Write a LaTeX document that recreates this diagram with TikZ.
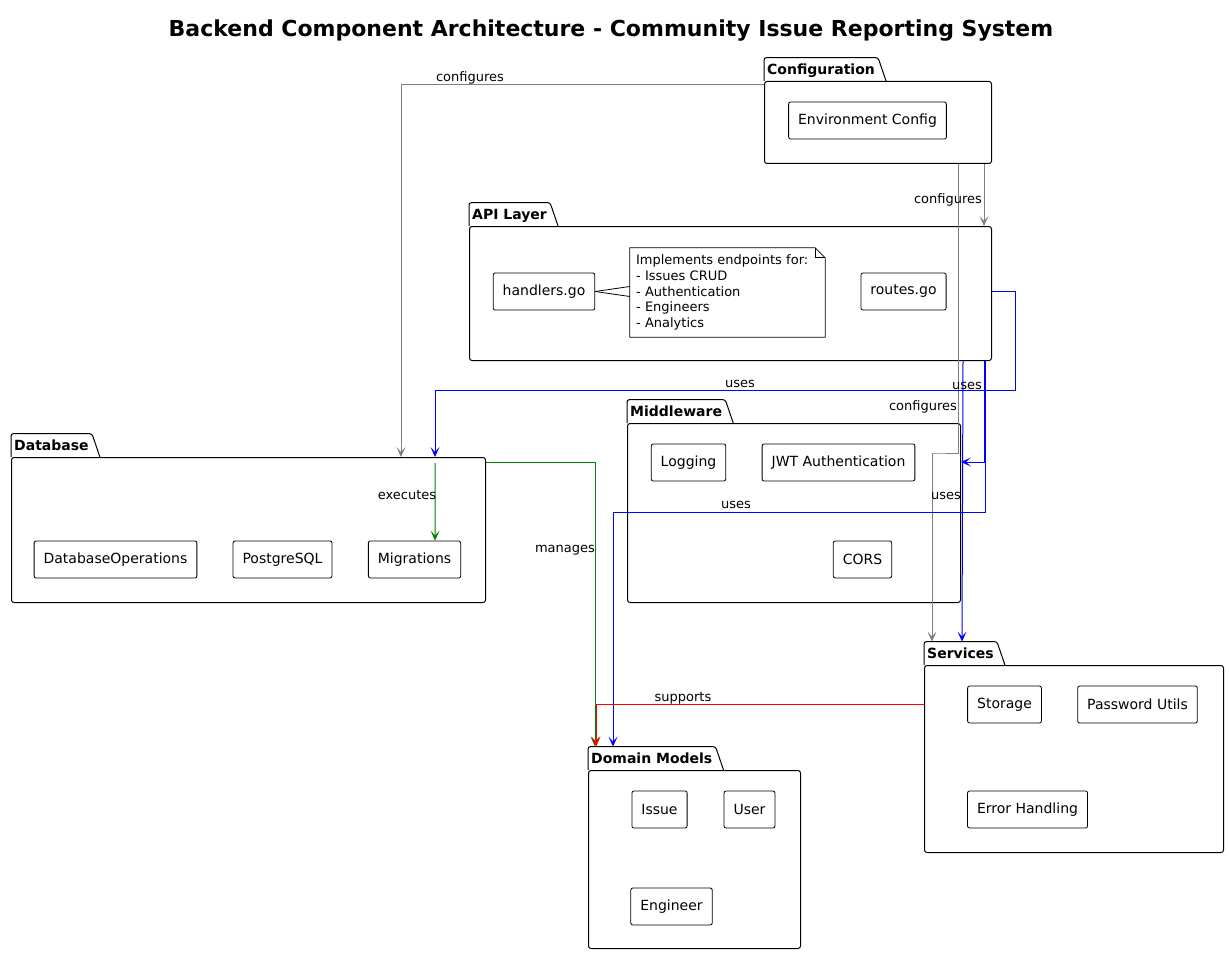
\documentclass[tikz,border=0pt]{standalone}
\usepackage{fontspec}
\setmainfont{DejaVu Sans}
\usetikzlibrary{arrows.meta,calc}

\definecolor{cfggray}{RGB}{128,128,128}
\definecolor{usesblue}{RGB}{0,0,255}
\definecolor{mnggreen}{RGB}{0,128,0}
\definecolor{supred}{RGB}{255,0,0}

% package tab above a package body node
\newcommand{\pkgtab}[2]{%
  \node[tabtext] (#1tab) at (#1.north west) {#2};
  \draw[line width=1pt] (#1tab.south west) [rounded corners=2.5pt] -- (#1tab.north west)
    -- (#1tab.north east) [sharp corners] -- ($(#1tab.south east)+(8,0)$);
}

\begin{document}
\begin{tikzpicture}[x=1pt, y=-1pt,
  >={Stealth[length=10pt,width=9pt,inset=5pt]},
  pkgbody/.style={draw, line width=1pt, rounded corners=2.5pt, anchor=north west, inner sep=0pt},
  tabtext/.style={font=\fontsize{14}{16}\bfseries, anchor=south west, inner xsep=3pt, inner ysep=0pt,
    minimum height=23pt, text height=11pt, text depth=1pt},
  comp/.style={draw, line width=0.8pt, rounded corners=2pt, font=\fontsize{14}{16}\selectfont,
    minimum height=37pt, inner xsep=9.5pt},
  lbl/.style={font=\fontsize{13}{15}\selectfont, anchor=base, inner sep=0pt},
  cfg/.style={->, draw=cfggray, line width=1pt},
  uses/.style={->, draw=usesblue, line width=1pt},
  mng/.style={->, draw=mnggreen, line width=1pt},
  sup/.style={->, draw=supred, line width=1pt}]

\fill[white] (0,0) rectangle (1229,955);
\useasboundingbox (0,0) rectangle (1229,955);

% Title
\node[font=\fontsize{22}{26}\bfseries, anchor=base] (title) at (611,37)
  {Backend Component Architecture - Community Issue Reporting System};

% Packages
\node[pkgbody, minimum width=227, minimum height=82] (config) at (764,81) {};
\pkgtab{config}{Configuration}
\node[pkgbody, minimum width=522, minimum height=134] (api) at (469,226) {};
\pkgtab{api}{API Layer}
\node[pkgbody, minimum width=474, minimum height=145] (db) at (11,457) {};
\pkgtab{db}{Database}
\node[pkgbody, minimum width=333, minimum height=179] (mw) at (627,423) {};
\pkgtab{mw}{Middleware}
\node[pkgbody, minimum width=299, minimum height=187] (svc) at (924,665) {};
\pkgtab{svc}{Services}
\node[pkgbody, minimum width=212, minimum height=178] (dom) at (588,770) {};
\pkgtab{dom}{Domain Models}

% Components
\node[comp] (env) at (867.5,120.5) {Environment Config};
\node[comp] (handlers) at (544,291.5) {handlers.go};
\node[comp] (routes) at (903.5,291.5) {routes.go};
\node[comp] (dbops) at (115.5,559.5) {DatabaseOperations};
\node[comp] (pg) at (282.5,559.5) {PostgreSQL};
\node[comp] (mig) at (414.5,559.5) {Migrations};
\node[comp] (logging) at (688.5,462.5) {Logging};
\node[comp] (jwt) at (838.5,462.5) {JWT Authentication};
\node[comp] (cors) at (862.5,559.5) {CORS};
\node[comp] (storage) at (1004.5,704.5) {Storage};
\node[comp] (pwd) at (1137.5,704.5) {Password Utils};
\node[comp] (err) at (1027.5,809.5) {Error Handling};
\node[comp] (issue) at (659.5,809.5) {Issue};
\node[comp] (user) at (749.5,809.5) {User};
\node[comp] (engineer) at (671.5,906.5) {Engineer};

% Note on handlers
\node[font=\fontsize{13}{15.8}\selectfont, align=left, text width=183, inner xsep=6pt,
  minimum height=89] (note) at (727.5,292.5)
  {Implements endpoints for:\\- Issues CRUD\\- Authentication\\- Engineers\\- Analytics};
\draw[line width=0.8pt] (note.north west) -- ($(note.north east)+(-10,0)$) -- ($(note.north east)+(0,10)$)
  -- (note.south east) -- (note.south west) -- cycle;
\draw[line width=0.8pt] ($(note.north east)+(-10,0)$) |- ($(note.north east)+(0,10)$);
\draw[line width=0.8pt] (handlers.east) -- ($(note.west)+(0,-6)$);
\draw[line width=0.8pt] (handlers.east) -- ($(note.west)+(0,4)$);

% Configuration links
\draw[cfg] ($(config.north west)+(0,4)$) -| ($(db.north west)+(390,0)$);
\draw[cfg] ($(config.south east)+(-8,0)$) -- ($(api.north east)+(-8,0)$);
\draw[cfg] ($(config.south east)+(-34,0)$) |- ($(mw.north east)+(-28,30)$) -| ($(svctab.north west)+(8,0)$);

% API links
\draw[uses] ($(api.north east)+(0,65)$) -- ++(23,0) |- ($(db.north west)+(424,-67)$) -- ($(db.north west)+(424,0)$);
\draw[uses] ($(api.south east)+(-8,0)$) |- ($(mw.north east)+(0,39)$);
\draw[uses] ($(api.south east)+(-29,0)$) -- ($(svctab.north west)+(38,0)$);
\draw[uses] ($(api.south east)+(-7,0)$) |- ($(mw.south west)+(-14,-91)$) -| ($(domtab.north west)+(25,0)$);

% Database links
\draw[mng] ($(db.north east)+(0,5)$) -| ($(domtab.north west)+(7,0)$);
\draw[mng] ($(db.north west)+(424,6)$) -- ($(mig.north east)+(-26,0)$);

% Services link
\draw[sup] ($(svc.north west)+(0,39)$) -| ($(domtab.north west)+(8,0)$);

% Link labels
\node[lbl] (lcfgdb) at (470,82) {configures};
\node[lbl] (lcfgapi) at (948,203) {configures};
\node[lbl] (lcfgsvc) at (923,410) {configures};
\node[lbl] (lapidb) at (740,387) {uses};
\node[lbl] (lapisvc) at (967,389) {uses};
\node[lbl] (lapimw) at (946,499) {uses};
\node[lbl] (lapidom) at (736,508) {uses};
\node[lbl] (lexec) at (407,499) {executes};
\node[lbl] (lmng) at (565,552) {manages};
\node[lbl] (lsup) at (683,701) {supports};
\end{tikzpicture}
\end{document}
